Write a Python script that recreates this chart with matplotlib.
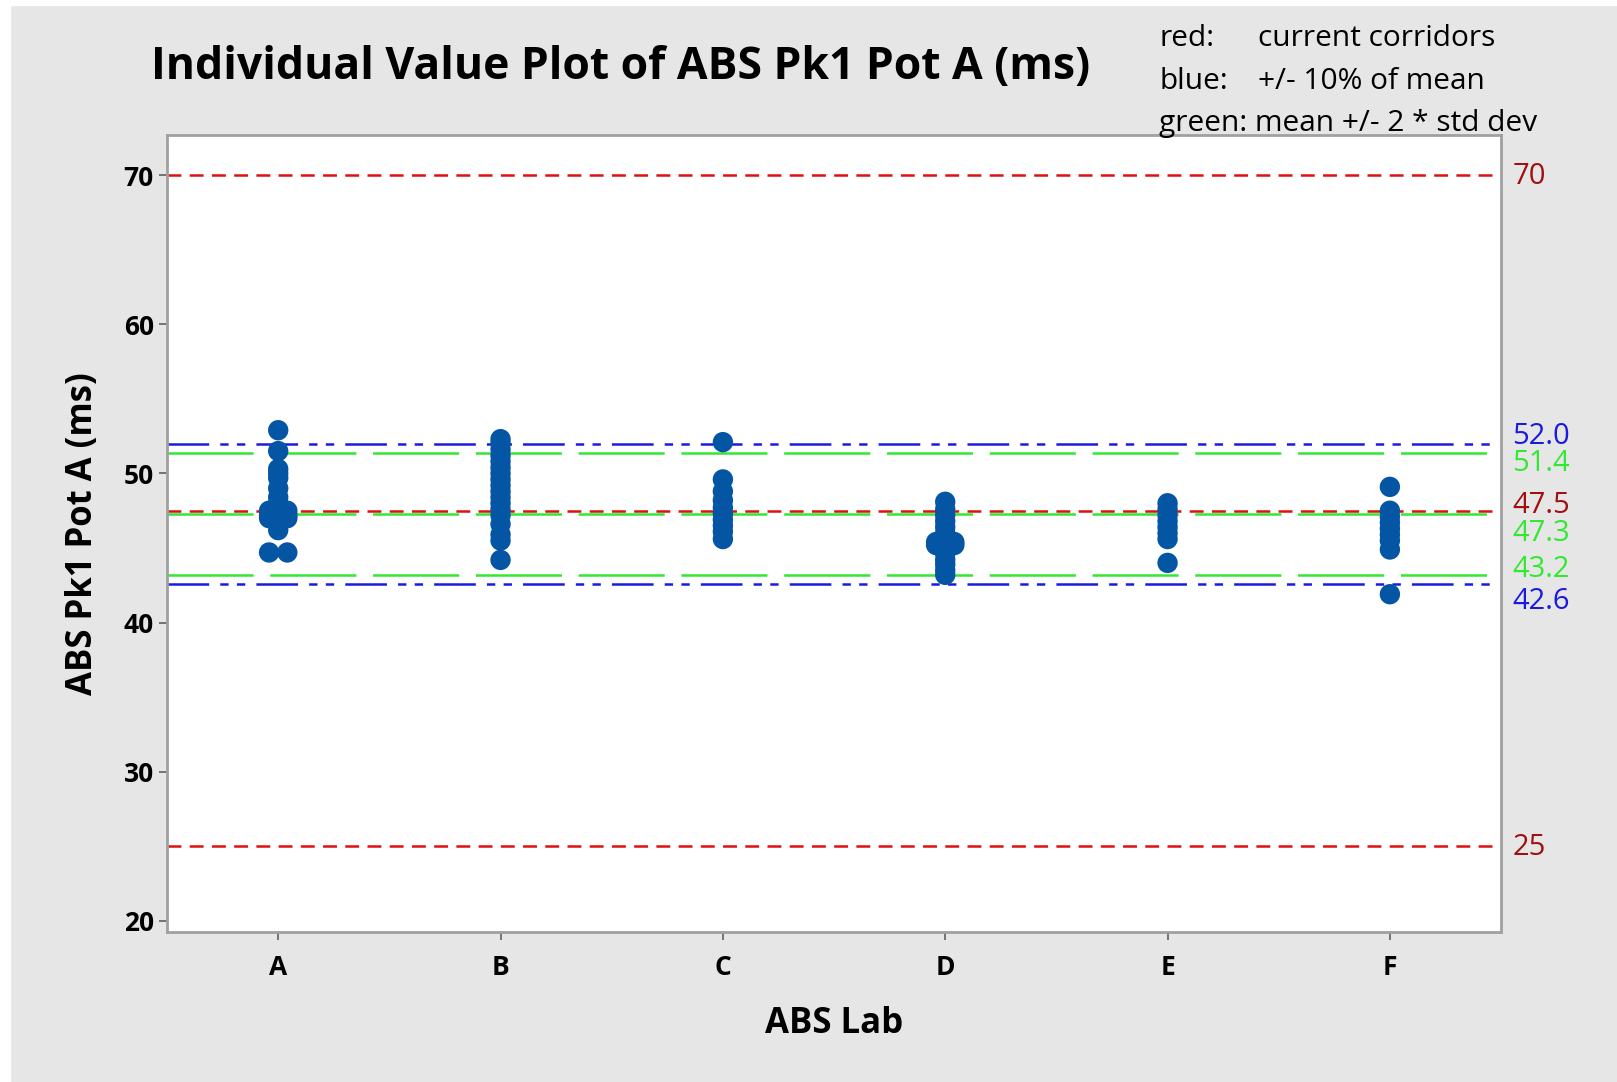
import numpy as np
import matplotlib
matplotlib.use("Agg")
import matplotlib.pyplot as plt
from matplotlib.patches import Rectangle

plt.rcParams['font.family'] = ['Open Sans', 'DejaVu Sans']
plt.rcParams['lines.scale_dashes'] = False

labs = ['A', 'B', 'C', 'D', 'E', 'F']
vals_a = [52.9, 51.5, 50.3, 50.0, 49.7, 49.0, 48.4, 48.0, 47.6, 47.5, 47.5,
          47.2, 47.2, 47.0, 47.0, 46.7, 46.2, 44.7, 44.7]
vals_b = [52.3, 52.0, 51.6, 51.2, 50.8, 50.4, 50.0, 49.6, 49.2, 48.8, 48.4, 48.0,
          47.6, 47.2, 46.6, 45.9, 45.5, 44.2]
vals_c = [52.1, 49.6, 48.8, 48.2, 47.7, 47.3, 46.9, 46.5, 46.1, 45.6]
vals_d = [48.1, 47.6, 47.2, 46.8, 46.4, 46.0, 45.6, 45.4, 45.4, 45.2, 45.2,
          44.9, 44.6, 44.2, 43.9, 43.5, 43.2]
vals_e = [48.0, 47.6, 47.2, 46.8, 46.4, 46.0, 45.6, 44.0]
vals_f = [49.1, 47.5, 47.1, 46.7, 46.3, 45.9, 45.5, 44.9, 41.9]
groups = [vals_a, vals_b, vals_c, vals_d, vals_e, vals_f]

red_lines = [70, 47.5, 25]
blue_lines = [52.0, 42.6]
green_lines = [51.4, 47.3, 43.2]

c_red = '#e01010'
c_red_txt = '#a01010'
c_blue = '#1a1ae0'
c_green = '#33e833'
c_pt = '#0455a4'

fig = plt.figure(figsize=(16.17, 10.82), dpi=100, facecolor='#e6e6e6')
fig.patches.append(Rectangle((0, 0.995), 1, 0.005, transform=fig.transFigure,
                             color='white', zorder=-1))
fig.patches.append(Rectangle((0, 0), 0.006, 1, transform=fig.transFigure,
                             color='white', zorder=-1))
ax = fig.add_axes([0.1033, 0.1386, 0.825, 0.7366])
ax.set_facecolor('white')

# reference lines
for v in red_lines:
    ax.axhline(v, color=c_red, lw=1.8, dashes=(10, 6), zorder=1)
for v in green_lines:
    ax.axhline(v, color=c_green, lw=1.8, dashes=(62, 12), zorder=1)
for v in blue_lines:
    ax.axhline(v, color=c_blue, lw=1.8, dashes=(30, 8, 6, 6, 6, 8), zorder=1)

# points, repeated values placed side by side
for i, g in enumerate(groups):
    g = np.array(g)
    xs = np.full(len(g), i + 1.0)
    for v in np.unique(g):
        idx = np.where(g == v)[0]
        n = len(idx)
        xs[idx] += (np.arange(n) - (n - 1) / 2) * 0.082
    ax.scatter(xs, g, s=215, color=c_pt, edgecolors='none', zorder=3)

ax.set_xlim(0.5, 6.5)
ax.set_ylim(19.24, 72.7)
ax.set_xticks(range(1, 7))
ax.set_xticklabels(labs)
ax.set_yticks([20, 30, 40, 50, 60, 70])
ax.tick_params(axis='both', labelsize=19, length=6, width=1.2, color='#606060')
ax.tick_params(axis='x', pad=10)
for t in ax.get_xticklabels() + ax.get_yticklabels():
    t.set_fontweight('bold')
for s in ax.spines.values():
    s.set_color('#a0a0a0')
    s.set_linewidth(2)

ax.set_ylabel('ABS Pk1 Pot A (ms)', fontsize=25, fontweight='bold', labelpad=16)
ax.set_xlabel('ABS Lab', fontsize=25, fontweight='bold', labelpad=18)

# right side values
right_labels = [(70, 0, c_red_txt), (25, 0, c_red_txt),
                 (52.0, 6, c_blue), (51.4, -7, c_green),
                 (47.5, 5, c_red_txt), (47.3, -13, c_green),
                 (43.2, 5, c_green), (42.6, -12, c_blue)]
for v, dy, c in right_labels:
    txt = '%d' % v if v in (70, 25) else '%.1f' % v
    ax.annotate(txt, xy=(1, v), xycoords=('axes fraction', 'data'),
                xytext=(8, dy - 1), textcoords='offset points',
                ha='left', va='center', fontsize=21, color=c)

fig.text(0.384, 0.938, 'Individual Value Plot of ABS Pk1 Pot A (ms)',
         ha='center', va='center', fontsize=32, fontweight='bold')
fig.text(0.717, 0.964, 'red:', fontsize=21.5, va='center')
fig.text(0.778, 0.964, 'current corridors', fontsize=21.5, va='center')
fig.text(0.717, 0.925, 'blue:', fontsize=21.5, va='center')
fig.text(0.778, 0.925, '+/- 10% of mean', fontsize=21.5, va='center')
fig.text(0.717, 0.886, 'green: mean +/- 2 * std dev', fontsize=21.5, va='center')

fig.savefig('out.png', dpi=100, facecolor=fig.get_facecolor())
